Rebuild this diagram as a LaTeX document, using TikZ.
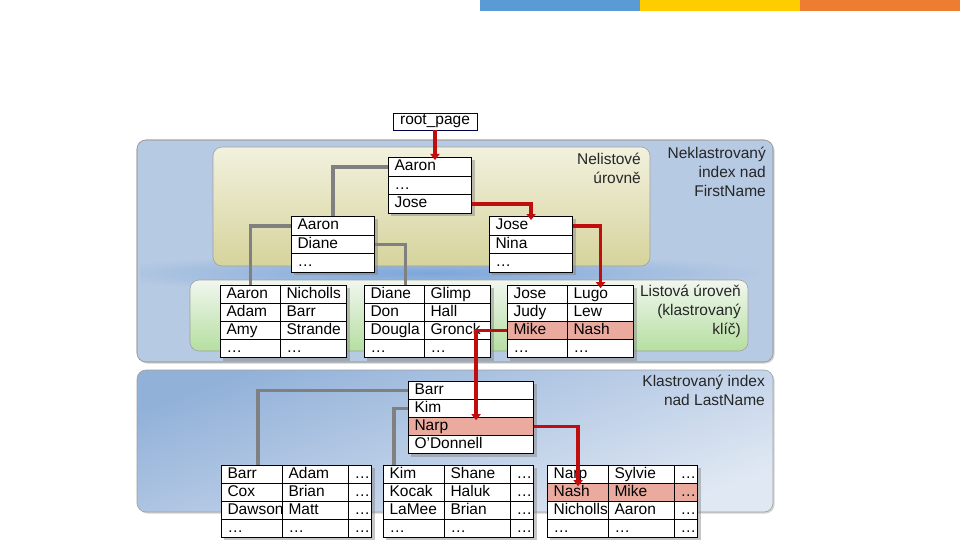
\documentclass[tikz,border=0pt]{standalone}
\usepackage{fontspec}
\setmainfont{Liberation Sans}
\usetikzlibrary{arrows.meta, positioning, matrix, shadows}
\definecolor{hitcol}{RGB}{234,170,158}
\definecolor{ptrred}{RGB}{192,14,14}
\definecolor{ptrgray}{RGB}{128,128,128}
\definecolor{panelblue}{RGB}{183,202,227}
\definecolor{panelmid}{RGB}{124,166,218}
\definecolor{nonleafA}{RGB}{242,241,222}
\definecolor{nonleafB}{RGB}{214,211,156}
\definecolor{leafA}{RGB}{241,247,239}
\definecolor{leafB}{RGB}{181,223,160}
\definecolor{lowA}{RGB}{146,177,217}
\definecolor{lowB}{RGB}{224,232,243}
\definecolor{barblue}{RGB}{91,155,213}
\definecolor{baryellow}{RGB}{255,204,0}
\definecolor{barorange}{RGB}{237,125,49}

\tikzset{
  cell/.style={draw=black, fill=white, line width=0.7pt, minimum height=18pt,
               inner xsep=6pt, inner ysep=0pt, text height=11pt, text depth=3pt,
               align=left},
  pagetab/.style={matrix of nodes, anchor=north west, inner sep=0pt,
                  row sep=-0.7pt, column sep=-0.7pt, fill=white,
                  drop shadow={shadow xshift=3pt, shadow yshift=-3pt, opacity=0.45},
                  nodes={cell}},
  nonleaf/.style={pagetab, nodes={minimum height=18.5pt},
                  column 1/.style={nodes={text width=71pt}}},
  leaf/.style={pagetab, column 1/.style={nodes={text width=48pt}},
               column 2/.style={nodes={text width=54pt}}},
  leafwide/.style={pagetab, column 1/.style={nodes={text width=49pt}},
                   column 2/.style={nodes={text width=54pt}},
                   column 3/.style={nodes={text width=11pt}}},
  hitrow/.style={row #1/.style={nodes={fill=hitcol}}},
  panel/.style={draw=gray!75, line width=0.6pt, rounded corners=9pt},
  tag/.style={align=right, anchor=north east, inner sep=0pt, text=black!85},
  link/.style={ptrgray, line width=3.6pt},
  ptr/.style={ptrred, line width=3.6pt, -{Triangle[width=9pt, length=6pt]}}
}

\begin{document}
\begin{tikzpicture}[x=1pt, y=-1pt, font=\fontsize{15.5}{19}\selectfont]
  \useasboundingbox (0,0) rectangle (960,540);

  %% --- colour bar ---
  \fill[barblue] (480,0) rectangle (640,11);
  \fill[baryellow] (640,0) rectangle (800,11);
  \fill[barorange] (800,0) rectangle (960,11);

  %% --- panels ---
  \fill[panelblue, panel, drop shadow={shadow xshift=1.5pt, shadow yshift=-1.5pt, opacity=0.35}]
    (137,140) rectangle (773,362);
  \begin{scope}
    \clip (140,143) rectangle (770,359);
    \shade[inner color=panelmid, outer color=panelblue] (430,273) ellipse (340 and 20);
  \end{scope}
  \draw[panel] (137,140) rectangle (773,362);
  \shade[panel, top color=nonleafA, bottom color=nonleafB] (213,147) rectangle (650,266);
  \shade[panel, top color=leafA, bottom color=leafB] (190,280) rectangle (748,351);
  \shade[panel, top color=lowA, bottom color=lowB, shading angle=20,
         drop shadow={shadow xshift=1.5pt, shadow yshift=-1.5pt, opacity=0.35}]
    (137,370) rectangle (773,512);

  \node[tag] (tagnl) at (641,153) {Nelistové\\úrovně};
  \node[tag] (tagnk) at (766,147) {Neklastrovaný\\index nad\\FirstName};
  \node[tag] (taglf) at (741,285) {Listová úroveň\\(klastrovaný\\klíč)};
  \node[tag] (tagkl) at (765,375) {Klastrovaný index\\nad LastName};

  %% --- nonclustered index pages ---
  \node[draw=black!70!blue, fill=white, line width=0.7pt, minimum width=84pt,
        minimum height=17pt, inner sep=0pt] (rootpage) at (435,121.5) {root\_page};

  \matrix (rootp) [nonleaf] at (388,157) { Aaron \\ … \\ Jose \\ };
  \matrix (nd) [nonleaf] at (291,216) { Aaron \\ Diane \\ … \\ };
  \matrix (jn) [nonleaf] at (489,216) { Jose \\ Nina \\ … \\ };

  \matrix (leafa) [leaf] at (220,285) {
    Aaron & Nicholls \\ Adam & Barr \\ Amy & Strande \\ … & … \\ };
  \matrix (leafb) [leaf] at (364,285) {
    Diane & Glimp \\ Don & Hall \\ Dougla & Gronck \\ … & … \\ };
  \matrix (leafc) [leaf, hitrow=3] at (507,285) {
    Jose & Lugo \\ Judy & Lew \\ Mike & Nash \\ … & … \\ };

  %% --- clustered index pages ---
  \matrix (ck) [pagetab, hitrow=3, column 1/.style={nodes={text width=113pt}}]
    at (408,381) { Barr \\ Kim \\ Narp \\ O’Donnell \\ };

  \matrix (leafd) [leafwide] at (221,465) {
    Barr & Adam & … \\ Cox & Brian & … \\ Dawson & Matt & … \\ … & … & … \\ };
  \matrix (leafe) [leafwide] at (383,465) {
    Kim & Shane & … \\ Kocak & Haluk & … \\ LaMee & Brian & … \\ … & … & … \\ };
  \matrix (leaff) [leafwide, hitrow=2] at (547,465) {
    Narp & Sylvie & … \\ Nash & Mike & … \\ Nicholls & Aaron & … \\ … & … & … \\ };

  %% --- child links ---
  \draw[link] (rootp-1-1.west) -| (nd.north);
  \draw[link] (nd-1-1.west) -| (leafa-1-1.north);
  \draw[link] (nd-2-1.east) -| ([xshift=11pt]leafb-1-1.north);
  \draw[link] (ck-1-1.west) -| ([xshift=6pt]leafd-1-1.north);
  \draw[link] (ck-2-1.west) -| ([xshift=-20pt]leafe-1-1.north);

  %% --- search path ---
  \draw[ptr, shorten >=-3pt] (rootpage.south) -- (rootpage.south |- rootp.north);
  \draw[ptr, shorten >=-4pt] (rootp-3-1.east) -| (jn.north);
  \draw[ptr, shorten >=-3pt] (jn-1-1.east) -| (leafc-1-2.north);
  \draw[ptr, shorten >=-3pt] (leafc-3-1.west) -| ([xshift=5pt]ck-3-1.north);
  \draw[ptr, shorten >=-3pt] (ck-3-1.east) -| (leaff-2-1.north);
\end{tikzpicture}
\end{document}
